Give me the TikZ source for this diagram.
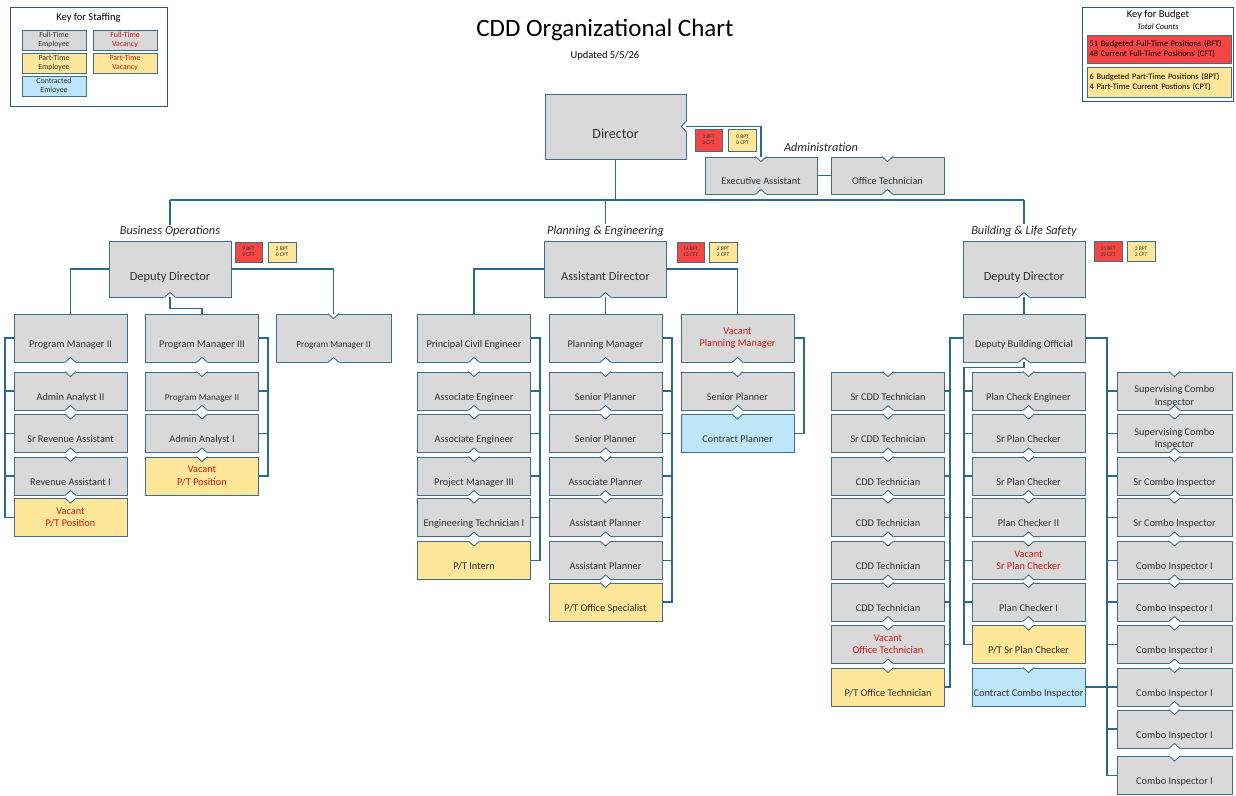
\documentclass[tikz,border=0pt]{standalone}
\usepackage{fontspec}
\setmainfont{Carlito}
\usetikzlibrary{calc}
\definecolor{boxgray}{HTML}{D9D9D9}
\definecolor{boxyel}{HTML}{FFE699}
\definecolor{boxblue}{HTML}{BDE7F8}
\definecolor{budred}{HTML}{F64545}
\definecolor{vacred}{HTML}{CC1A1A}
\definecolor{txt}{HTML}{303030}
\definecolor{conncol}{HTML}{2B6A8B}
\definecolor{bordcol}{HTML}{3F6E8A}
\definecolor{framecol}{HTML}{2E5A74}
\newcommand\tnotch[1]{%
  \fill[white] ([xshift=-6.6pt,yshift=1pt]#1.north) -- ([xshift=6.6pt,yshift=1pt]#1.north) -- ([yshift=-5pt]#1.north) -- cycle;
  \draw[bd] ([xshift=-5.5pt]#1.north) -- ([yshift=-5pt]#1.north) -- ([xshift=5.5pt]#1.north);}
\newcommand\bnotch[1]{%
  \fill[white] ([xshift=-6.6pt,yshift=-1pt]#1.south) -- ([xshift=6.6pt,yshift=-1pt]#1.south) -- ([yshift=5pt]#1.south) -- cycle;
  \draw[bd] ([xshift=-5.5pt]#1.south) -- ([yshift=5pt]#1.south) -- ([xshift=5.5pt]#1.south);}
\newcommand\lowtwo[2]{\raisebox{-5.5pt}[\height][\depth]{\begin{tabular}{@{}c@{}}#1\\#2\end{tabular}}}
\begin{document}
\begin{tikzpicture}[x=1pt,y=-1pt,
  bd/.style={draw=bordcol, line width=0.9pt},
  cn/.style={draw=conncol, line width=1.9pt},
  bx/.style={draw=bordcol, line width=0.9pt, minimum width=113pt, minimum height=38pt, inner sep=1pt, text=txt, font=\fontsize{10.3}{12.2}\selectfont},
  lo/.style={text height=18.8pt, text depth=0pt},
  gy/.style={bx, lo, fill=boxgray},
  yl/.style={bx, lo, fill=boxyel},
  bl/.style={bx, lo, fill=boxblue},
  vg/.style={bx, fill=boxgray, text=vacred, align=center},
  vy/.style={bx, fill=boxyel, text=vacred, align=center},
  g2/.style={bx, fill=boxgray},
  mgr/.style={gy, minimum height=48pt},
  dd/.style={gy, minimum width=122pt, minimum height=56pt, font=\fontsize{12.4}{14}\selectfont, text height=22pt},
  sm/.style={font=\fontsize{9.2}{11}\selectfont},
  bud/.style={draw=bordcol, line width=0.9pt, minimum width=27pt, minimum height=20pt, inner sep=0pt, align=center, text=black!80, font=\fontsize{5.5}{6.3}\selectfont},
  sec/.style={font=\fontsize{12.3}{14}\selectfont\itshape, text=black!85, inner sep=1pt},
  key/.style={draw=bordcol, line width=0.9pt, minimum width=64pt, minimum height=20pt, inner sep=0pt, align=center, font=\fontsize{7.8}{8.6}\selectfont},
  frm/.style={draw=framecol, line width=0.9pt, inner sep=0pt}
]
\useasboundingbox (0,0) rectangle (1236,795);
\fill[white] (0,0) rectangle (1236,795);

% ---------- title ----------
\node[font=\fontsize{25}{28}\selectfont] (title) at (605,30) {CDD Organizational Chart};
\node[font=\fontsize{10.5}{12}\selectfont] (upd) at (605,56) {Updated 5/5/26};

% ---------- key for staffing ----------
\node[frm, minimum width=157pt, minimum height=99pt] (kst) at (88.5,56.5) {};
\node[font=\fontsize{10.5}{12}\selectfont] (kstt) at (88.5,18) {Key for Staffing};
\node[key, fill=boxgray, text=txt] (k1) at (54,40) {Full-Time\\Employee};
\node[key, fill=boxgray, text=vacred] (k2) at (125,40) {Full-Time\\Vacancy};
\node[key, fill=boxyel, text=txt] (k3) at (54,63) {Part-Time\\Employee};
\node[key, fill=boxyel, text=vacred] (k4) at (125,63) {Part-Time\\Vacancy};
\node[key, fill=boxblue, text=txt] (k5) at (54,86) {Contracted\\Emloyee};

% ---------- key for budget ----------
\node[frm, minimum width=151pt, minimum height=94pt] (kbu) at (1157.5,54) {};
\node[font=\fontsize{10.5}{12}\selectfont] (kbut) at (1158,15) {Key for Budget};
\node[font=\fontsize{8.3}{10}\selectfont\itshape] (kbus) at (1158,27) {Total Counts};
\node[draw=bordcol, line width=0.9pt, fill=budred, minimum width=144pt, minimum height=28pt, inner sep=0pt, text width=140pt, align=left, font=\fontsize{8.4}{9.3}\selectfont] (kr) at (1159.5,49) {51 Budgeted Full-Time Positions (BFT)\\48 Current Full-Time Positions (CFT)};
\node[draw=bordcol, line width=0.9pt, fill=boxyel, minimum width=144pt, minimum height=30pt, inner sep=0pt, text width=140pt, align=left, font=\fontsize{8.4}{9.3}\selectfont] (ky) at (1159.5,82) {6 Budgeted Part-Time Positions (BPT)\\4 Part-Time Current Postions (CPT)};

% ---------- director & administration ----------
\node[gy, minimum width=141pt, minimum height=65pt, font=\fontsize{14}{16}\selectfont, text height=24pt] (dir) at (615.5,126.5) {Director};
\node[bud, fill=budred, minimum height=22pt] (b0) at (708.5,140) {3 BFT\\3 CFT};
\node[bud, fill=boxyel, minimum height=22pt, minimum width=28pt] (p0) at (742.5,140) {0 BPT\\0 CPT};
\node[sec] (ladm) at (821,147) {Administration};
\node[gy, minimum width=112pt, minimum height=37pt, text height=18.3pt] (ea) at (761,175.5) {Executive Assistant};
\node[gy, minimum width=113pt, minimum height=37pt, text height=18.3pt] (ot) at (887.5,175.5) {Office Technician};

% ---------- section labels ----------
\node[sec] (lbo) at (170,231) {Business Operations};
\node[sec] (lpe) at (605.5,231) {Planning \& Engineering};
\node[sec] (lbls) at (1024,231) {Building \& Life Safety};

% ---------- business operations ----------
\node[dd] (ddbo) at (170,269) {Deputy Director};
\node[bud, fill=budred] (b1) at (248.5,252) {9 BFT\\9 CFT};
\node[bud, fill=boxyel, minimum width=28pt] (p1) at (282,252) {2 BPT\\0 CPT};
\node[mgr] (pm2a) at (70.5,338) {Program Manager II};
\node[mgr] (pm3) at (202,338) {Program Manager III};
\node[mgr, sm, minimum width=115pt] (pm2b) at (333.5,338) {Program Manager II};
\node[gy] (aa2) at (70.5,391) {Admin Analyst II};
\node[gy] (sra) at (70.5,433.5) {Sr Revenue Assistant};
\node[gy] (ra1) at (70.5,476) {Revenue Assistant I};
\node[vy] (vpt1) at (70.5,517.5) {Vacant\\P/T Position};
\node[gy, sm] (pm2c) at (202,391) {Program Manager II};
\node[gy] (aa1) at (202,433.5) {Admin Analyst I};
\node[vy] (vpt2) at (202,476) {Vacant\\P/T Position};

% ---------- planning & engineering ----------
\node[dd] (ad) at (605.5,269) {Assistant Director};
\node[bud, fill=budred] (b2) at (690.5,252) {14 BFT\\13 CFT};
\node[bud, fill=boxyel, minimum width=28pt] (p2) at (723,252) {2 BPT\\2 CPT};
\node[mgr] (pce) at (474,338) {Principal Civil Engineer};
\node[mgr] (pmg) at (605.5,338) {Planning Manager};
\node[vg, minimum height=48pt] (vpm) at (737.5,338) {Vacant\\Planning Manager};
\node[gy] (ae1) at (474,391) {Associate Engineer};
\node[gy] (ae2) at (474,433.5) {Associate Engineer};
\node[gy] (pm3e) at (474,476) {Project Manager III};
\node[gy] (et1) at (474,517.5) {Engineering Technician I};
\node[yl] (intern) at (474,560.5) {P/T Intern};
\node[gy] (sp1) at (605.5,391) {Senior Planner};
\node[gy] (sp2) at (605.5,433.5) {Senior Planner};
\node[gy] (asp) at (605.5,476) {Associate Planner};
\node[gy] (ap1) at (605.5,517.5) {Assistant Planner};
\node[gy] (ap2) at (605.5,560.5) {Assistant Planner};
\node[yl] (pos) at (605.5,602) {P/T Office Specialist};
\node[gy] (sp3) at (737.5,391) {Senior Planner};
\node[bl] (cpl) at (737.5,433.5) {Contract Planner};

% ---------- building & life safety ----------
\node[dd] (dd3) at (1024,269) {Deputy Director};
\node[bud, fill=budred, minimum width=28pt] (b3) at (1108,251.5) {25 BFT\\22 CFT};
\node[bud, fill=boxyel, minimum width=28pt] (p3) at (1141,251.5) {2 BPT\\2 CPT};
\node[mgr, minimum width=122pt] (dbo) at (1024,338) {Deputy Building Official};
\node[gy] (st1) at (888,391) {Sr CDD Technician};
\node[gy] (st2) at (888,433.5) {Sr CDD Technician};
\node[gy] (ct1) at (888,476) {CDD Technician};
\node[gy] (ct2) at (888,517.5) {CDD Technician};
\node[gy] (ct3) at (888,560.5) {CDD Technician};
\node[gy] (ct4) at (888,602) {CDD Technician};
\node[vg] (vot) at (888,644.5) {Vacant\\Office Technician};
\node[yl] (pot) at (888,687) {P/T Office Technician};
\node[gy] (pce2) at (1028.5,391) {Plan Check Engineer};
\node[gy] (spc1) at (1028.5,433.5) {Sr Plan Checker};
\node[gy] (spc2) at (1028.5,476) {Sr Plan Checker};
\node[gy] (pc2) at (1028.5,517.5) {Plan Checker II};
\node[vg] (vspc) at (1028.5,560.5) {Vacant\\Sr Plan Checker};
\node[gy] (pc1) at (1028.5,602) {Plan Checker I};
\node[yl] (pspc) at (1028.5,644.5) {P/T Sr Plan Checker};
\node[bl] (cci) at (1028.5,687) {Contract Combo Inspector};
\node[g2, minimum width=115pt] (sci1) at (1174.5,391) {\lowtwo{Supervising Combo}{Inspector}};
\node[g2, minimum width=115pt] (sci2) at (1174.5,433.5) {\lowtwo{Supervising Combo}{Inspector}};
\node[gy, minimum width=115pt] (sri1) at (1174.5,476) {Sr Combo Inspector};
\node[gy, minimum width=115pt] (sri2) at (1174.5,517.5) {Sr Combo Inspector};
\node[gy, minimum width=115pt] (ci1) at (1174.5,560.5) {Combo Inspector I};
\node[gy, minimum width=115pt] (ci2) at (1174.5,602) {Combo Inspector I};
\node[gy, minimum width=115pt] (ci3) at (1174.5,644.5) {Combo Inspector I};
\node[gy, minimum width=115pt] (ci4) at (1174.5,687) {Combo Inspector I};
\node[gy, minimum width=115pt] (ci5) at (1174.5,729) {Combo Inspector I};
\node[gy, minimum width=115pt] (ci6) at (1174.5,775.5) {Combo Inspector I};

% ---------- notches ----------
\foreach \n in {ea,ot,pm2b,aa2,sra,ra1,vpt1,pm2c,aa1,vpt2,ae1,ae2,pm3e,et1,intern,sp1,sp2,asp,ap1,ap2,pos,sp3,cpl,st1,st2,ct1,ct2,ct3,ct4,vot,pot,pce2,spc1,spc2,pc2,vspc,pc1,pspc,cci,sci1,sci2,sri1,sri2,ci1,ci2,ci3,ci4,ci5,ci6}{\tnotch{\n}}
\foreach \n in {ea,ot,ddbo,ad,dd3,pm2a,pm3,pm2b,pce,pmg,vpm,dbo,aa2,sra,ra1,pm2c,aa1,ae1,ae2,pm3e,et1,sp1,sp2,asp,ap1,ap2,sp3,st1,st2,ct1,ct2,ct3,ct4,vot,pce2,spc1,spc2,pc2,vspc,pc1,sci1,sci2,sri1,sri2,ci1,ci2,ci3,ci4,ci5}{\bnotch{\n}}
\fill[white] ([xshift=1pt,yshift=6.6pt]dir.east) -- ([xshift=1pt,yshift=-6.6pt]dir.east) -- ([xshift=-5pt]dir.east) -- cycle;
\draw[bd] ([yshift=5.5pt]dir.east) -- ([xshift=-5pt]dir.east) -- ([yshift=-5.5pt]dir.east);

% ---------- connectors: top ----------
\coordinate (busL) at (170,200);
\coordinate (busR) at (1024,200);
\draw[cn] (dir.south) -- (dir.south |- busL);
\draw[cn] (busL) -- (busR);
\draw[cn] (busL) -- (lbo.north);
\draw[cn] (lpe.north |- busL) -- (lpe.north);
\draw[cn] (busR) -- (lbls.north);
\draw[cn] (dir.east) -| (ea.north);
\draw[cn] (ea.east) -- (ot.west);

% ---------- connectors: business operations ----------
\coordinate (xb1) at (5,0);
\coordinate (xb2) at (268,0);
\draw[cn] (ddbo.west) -| (pm2a.north);
\draw[cn] (ddbo.south) -- ++(0,11) -| (pm3.north);
\draw[cn] (ddbo.east) -| (pm2b.north);
\draw[cn] (pm2a.west) -- (pm2a.west -| xb1) -- (vpt1.west -| xb1) -- (vpt1.west);
\foreach \n in {aa2,sra,ra1}{\draw[cn] (\n.west -| xb1) -- (\n.west);}
\draw[cn] (pm3.east) -- (pm3.east -| xb2) -- (vpt2.east -| xb2) -- (vpt2.east);
\foreach \n in {pm2c,aa1}{\draw[cn] (\n.east -| xb2) -- (\n.east);}

% ---------- connectors: planning & engineering ----------
\coordinate (xp1) at (540,0);
\coordinate (xp2) at (672,0);
\coordinate (xp3) at (804,0);
\draw[cn] (ad.west) -| (pce.north);
\draw[cn] (ad.south) -- (pmg.north);
\draw[cn] (ad.east) -| (vpm.north);
\draw[cn] (pce.east) -- (pce.east -| xp1) -- (intern.east -| xp1) -- (intern.east);
\foreach \n in {ae1,ae2,pm3e,et1}{\draw[cn] (\n.east -| xp1) -- (\n.east);}
\draw[cn] (pmg.east) -- (pmg.east -| xp2) -- (pos.east -| xp2) -- (pos.east);
\foreach \n in {sp1,sp2,asp,ap1,ap2}{\draw[cn] (\n.east -| xp2) -- (\n.east);}
\draw[cn] (vpm.east) -- (vpm.east -| xp3) -- (cpl.east -| xp3) -- (cpl.east);

% ---------- connectors: building & life safety ----------
\coordinate (xl) at (950,0);
\coordinate (xm) at (964,0);
\coordinate (xr) at (1107,0);
\draw[cn] (dd3.south) -- (dbo.north);
\draw[cn] (dbo.west) -- (dbo.west -| xl) -- (pot.east -| xl) -- (pot.east);
\foreach \n in {st1,st2,ct1,ct2,ct3,ct4,vot}{\draw[cn] (\n.east -| xl) -- (\n.east);}
\draw[cn] (dbo.south) -- ++(0,5) -| (pspc.west -| xm) -- (pspc.west);
\foreach \n in {pce2,spc1,spc2,pc2,vspc,pc1}{\draw[cn] (\n.west -| xm) -- (\n.west);}
\draw[cn] (dbo.east) -- (dbo.east -| xr) -- (ci6.west -| xr) -- (ci6.west);
\foreach \n in {sci1,sci2,sri1,sri2,ci1,ci2,ci3,ci4,ci5}{\draw[cn] (\n.west -| xr) -- (\n.west);}
\draw[cn] (cci.east) -- (cci.east -| xr);
\end{tikzpicture}
\end{document}
